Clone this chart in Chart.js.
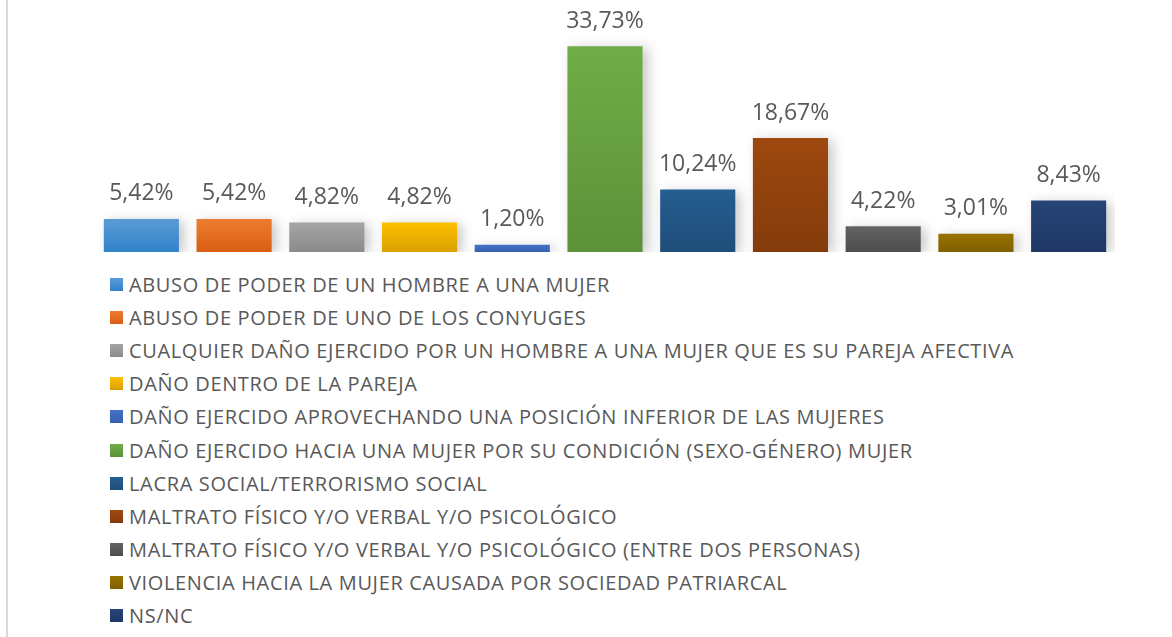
<!DOCTYPE html>
<html lang="es">
<head>
<meta charset="UTF-8">
<title>Violencia de género - definiciones</title>
<script src="https://cdn.jsdelivr.net/npm/chart.js"></script>
<style>
    body {
        margin: 0;
        background: #ffffff;
        font-family: 'Open Sans', sans-serif;
    }
    #wrap {
        position: relative;
        width: 1172px;
        height: 637px;
        overflow: hidden;
    }
    #frame {
        position: absolute;
        left: 6px;
        top: 0;
        width: 2px;
        height: 637px;
        background: #d9d9d9;
    }
    #chartBox {
        position: absolute;
        left: 0;
        top: 0;
        width: 1172px;
        height: 262px;
    }
    #legend {
        position: absolute;
        left: 110px;
        top: 268px;
        margin: 0;
        padding: 0;
        list-style: none;
    }
    #legend li {
        height: 33.1px;
        display: flex;
        align-items: center;
        color: #595959;
        font-size: 20px;
        letter-spacing: 0.65px;
        white-space: nowrap;
    }
    #legend .sw {
        width: 13px;
        height: 13px;
        margin-right: 6px;
        flex-shrink: 0;
    }
</style>
</head>
<body>
<div id="wrap">
    <div id="frame"></div>
    <div id="chartBox"><canvas id="c"></canvas></div>
    <ul id="legend"></ul>
</div>

<script>
const categories = [
    "ABUSO DE PODER DE UN HOMBRE A UNA MUJER",
    "ABUSO DE PODER DE UNO DE LOS CONYUGES",
    "CUALQUIER DAÑO EJERCIDO POR UN HOMBRE A UNA MUJER QUE ES SU PAREJA AFECTIVA",
    "DAÑO DENTRO DE LA PAREJA",
    "DAÑO EJERCIDO APROVECHANDO UNA POSICIÓN INFERIOR DE LAS MUJERES",
    "DAÑO EJERCIDO HACIA UNA MUJER POR SU CONDICIÓN (SEXO-GÉNERO) MUJER",
    "LACRA SOCIAL/TERRORISMO SOCIAL",
    "MALTRATO FÍSICO Y/O VERBAL Y/O PSICOLÓGICO",
    "MALTRATO FÍSICO Y/O VERBAL Y/O PSICOLÓGICO (ENTRE DOS PERSONAS)",
    "VIOLENCIA HACIA LA MUJER CAUSADA POR SOCIEDAD PATRIARCAL",
    "NS/NC"
];
const percentages = [5.42, 5.42, 4.82, 4.82, 1.20, 33.73, 10.24, 18.67, 4.22, 3.01, 8.43];

// top / bottom colours of each bar gradient
const topColors    = ["#5b9bd5", "#ed7d31", "#a5a5a5", "#ffc000", "#4472c4", "#70ad47", "#255e91", "#9e480e", "#636363", "#997300", "#264478"];
const bottomColors = ["#3082ca", "#d95e14", "#8a8a8a", "#d9a000", "#3660b0", "#5c9139", "#1f4d7a", "#843c0c", "#4d4d4d", "#7f6000", "#1f3864"];

// legend
const legend = document.getElementById("legend");
categories.forEach((cat, i) => {
    const li = document.createElement("li");
    li.innerHTML = `<span class="sw" style="background:linear-gradient(${topColors[i]}, ${bottomColors[i]})"></span>${cat}`;
    legend.appendChild(li);
});

function barGradient(context) {
    const chart = context.chart;
    const area = chart.chartArea;
    const i = context.dataIndex;
    if (!area || !chart.scales.y) return topColors[i];
    const yTop = chart.scales.y.getPixelForValue(percentages[i]);
    const g = chart.ctx.createLinearGradient(0, yTop, 0, area.bottom);
    g.addColorStop(0, topColors[i]);
    g.addColorStop(1, bottomColors[i]);
    return g;
}

const shadowPlugin = {
    id: "barShadow",
    beforeDatasetsDraw(chart) {
        const ctx = chart.ctx;
        ctx.save();
        ctx.shadowColor = "rgba(0,0,0,0.22)";
        ctx.shadowBlur = 12;
        ctx.shadowOffsetX = 5;
        ctx.shadowOffsetY = 2;
    },
    afterDatasetsDraw(chart) {
        chart.ctx.restore();
    }
};

const labelPlugin = {
    id: "valueLabels",
    afterDatasetsDraw(chart) {
        const ctx = chart.ctx;
        const meta = chart.getDatasetMeta(0);
        ctx.save();
        ctx.font = "23px 'Open Sans'";
        ctx.fillStyle = "#595959";
        ctx.textAlign = "center";
        ctx.textBaseline = "middle";
        meta.data.forEach((bar, i) => {
            const txt = percentages[i].toFixed(2).replace(".", ",") + "%";
            ctx.fillText(txt, bar.x, bar.y - 25);
        });
        ctx.restore();
    }
};

new Chart(document.getElementById("c"), {
    type: "bar",
    data: {
        labels: categories,
        datasets: [{
            data: percentages,
            backgroundColor: barGradient,
            borderWidth: 0,
            barPercentage: 0.81,
            categoryPercentage: 1.0
        }]
    },
    options: {
        responsive: true,
        maintainAspectRatio: false,
        animation: false,
        layout: {
            padding: { left: 95, right: 57, top: 8, bottom: 10 }
        },
        plugins: {
            legend: { display: false },
            tooltip: { enabled: false }
        },
        scales: {
            x: { display: false },
            y: { display: false, min: 0, max: 40 }
        }
    },
    plugins: [shadowPlugin, labelPlugin]
});
</script>
</body>
</html>
